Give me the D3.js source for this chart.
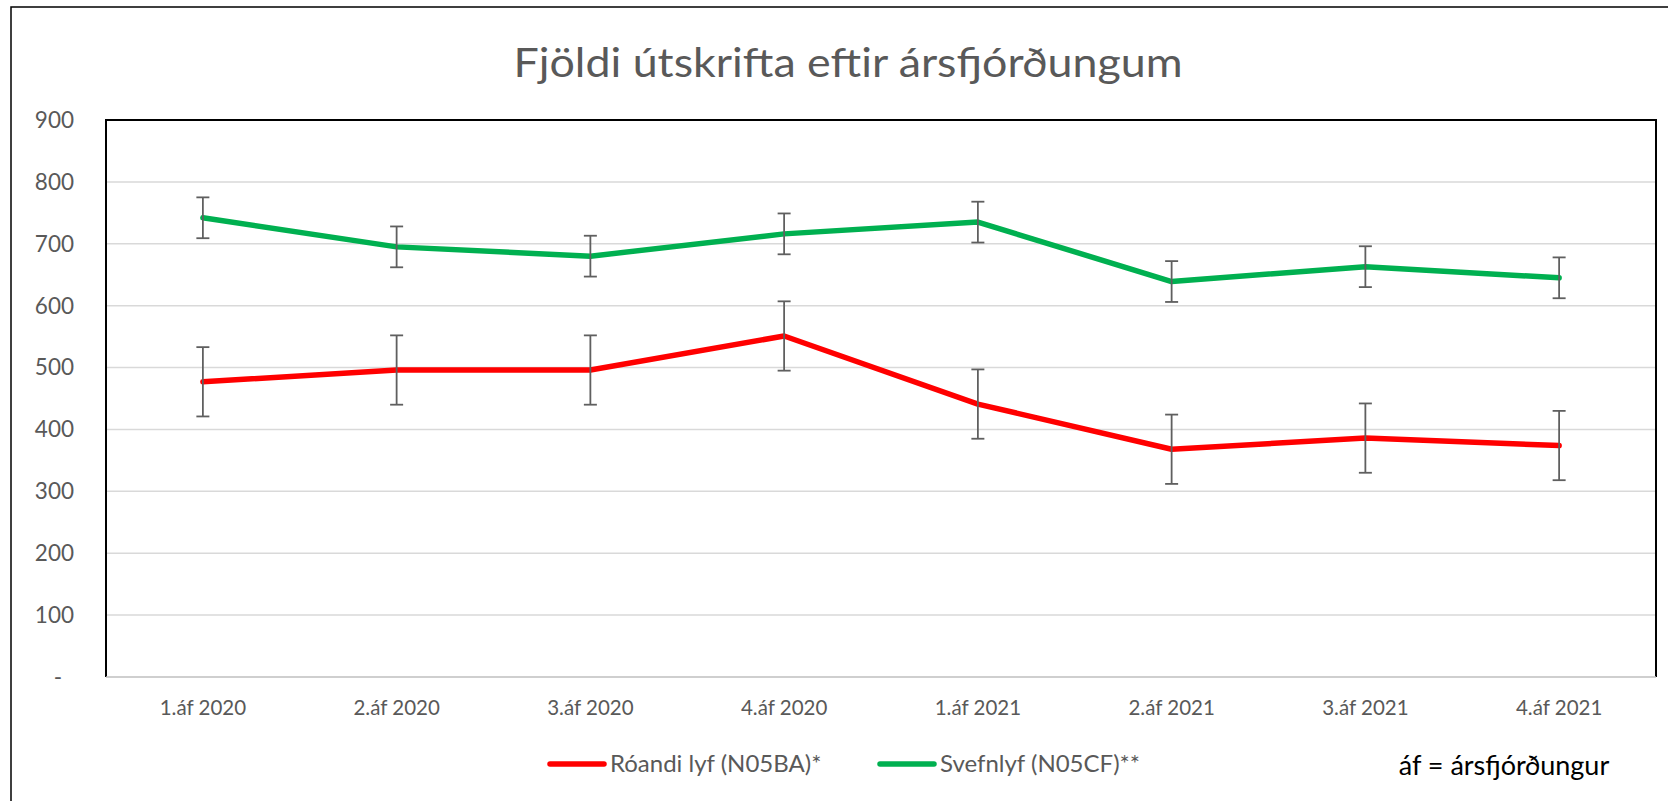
<!DOCTYPE html>
<html>
<head>
<meta charset="utf-8">
<script src="https://cdn.jsdelivr.net/npm/d3@7"></script>
<style>
  body { margin: 0; background: #fff; }
  svg { display: block; font-family: Lato, "Open Sans", sans-serif; }
</style>
</head>
<body>
<svg id="chart" width="1668" height="801"></svg>
<script>
var categories = ["1.áf 2020", "2.áf 2020", "3.áf 2020", "4.áf 2020", "1.áf 2021", "2.áf 2021", "3.áf 2021", "4.áf 2021"];
var roandi = [477, 496, 496, 551, 441, 368, 386, 374];
var roandiErr = [56, 56, 56, 56, 56, 56, 56, 56];
var svefnlyf = [742, 695, 680, 716, 735, 639, 663, 645];
var svefnlyfErr = [33, 33, 33, 33, 33, 33, 33, 33];
var yTicks = [0, 100, 200, 300, 400, 500, 600, 700, 800, 900];
var seriesNames = ["Róandi lyf (N05BA)*", "Svefnlyf (N05CF)**"];

function draw() {
    var series = [
        { name: seriesNames[0], values: roandi, err: roandiErr, color: "#ff0000" },
        { name: seriesNames[1], values: svefnlyf, err: svefnlyfErr, color: "#00b050" }
    ];

    var svg = d3.select("#chart");
    var plotLeft = 106, plotTop = 120, plotRight = 1656, plotBottom = 677;

    // outer chart border
    svg.append("rect")
        .attr("x", 11).attr("y", 7)
        .attr("width", 1700).attr("height", 900)
        .attr("fill", "none").attr("stroke", "#000").attr("stroke-width", 1.5);

    var x = d3.scaleBand().domain(categories).range([plotLeft, plotRight]);
    var y = d3.scaleLinear().domain([0, 900]).range([plotBottom, plotTop]);
    var cx = function (i) { return x(categories[i]) + x.bandwidth() / 2; };

    // gridlines
    svg.append("g").selectAll("line")
        .data(yTicks.filter(function (d) { return d > 0 && d < 900; }))
        .enter().append("line")
        .attr("x1", plotLeft).attr("x2", plotRight)
        .attr("y1", function (d) { return y(d); })
        .attr("y2", function (d) { return y(d); })
        .attr("stroke", "#d9d9d9").attr("stroke-width", 1.5);

    // plot border (left, top, right black; bottom grey axis)
    svg.append("path")
        .attr("d", "M" + plotLeft + "," + plotBottom + "V" + plotTop + "H" + plotRight + "V" + plotBottom)
        .attr("fill", "none").attr("stroke", "#000").attr("stroke-width", 2);
    svg.append("line")
        .attr("x1", plotLeft).attr("x2", plotRight)
        .attr("y1", plotBottom).attr("y2", plotBottom)
        .attr("stroke", "#bfbfbf").attr("stroke-width", 1.5);

    // y axis labels
    svg.append("g").selectAll("text")
        .data(yTicks)
        .enter().append("text")
        .attr("x", function (d) { return d === 0 ? 62 : 74; })
        .attr("y", function (d) { return y(d); })
        .attr("dy", "0.35em")
        .attr("text-anchor", "end")
        .attr("font-size", 22.5)
        .attr("fill", "#595959")
        .text(function (d) { return d === 0 ? "-" : d; });

    // x axis labels
    svg.append("g").selectAll("text")
        .data(categories)
        .enter().append("text")
        .attr("x", function (d, i) { return cx(i); })
        .attr("y", 715)
        .attr("text-anchor", "middle")
        .attr("font-size", 20.5)
        .attr("fill", "#595959")
        .text(function (d) { return d; });

    // title
    svg.append("text")
        .attr("x", 848).attr("y", 77)
        .attr("text-anchor", "middle")
        .attr("font-size", 41)
        .attr("textLength", 669)
        .attr("lengthAdjust", "spacingAndGlyphs")
        .attr("fill", "#595959")
        .text("Fjöldi útskrifta eftir ársfjórðungum");

    var line = d3.line()
        .x(function (d, i) { return cx(i); })
        .y(function (d) { return y(d); });

    series.forEach(function (s) {
        var g = svg.append("g");
        g.append("path")
            .datum(s.values)
            .attr("d", line)
            .attr("fill", "none")
            .attr("stroke", s.color)
            .attr("stroke-width", 5.5)
            .attr("stroke-linejoin", "round")
            .attr("stroke-linecap", "round");

        var eb = g.selectAll(".eb")
            .data(s.values)
            .enter().append("g")
            .attr("stroke", "#5f5f5f").attr("stroke-width", 1.8);
        eb.append("line")
            .attr("x1", function (d, i) { return cx(i); })
            .attr("x2", function (d, i) { return cx(i); })
            .attr("y1", function (d, i) { return y(d + s.err[i]); })
            .attr("y2", function (d, i) { return y(d - s.err[i]); });
        [1, -1].forEach(function (sign) {
            eb.append("line")
                .attr("x1", function (d, i) { return cx(i) - 6.5; })
                .attr("x2", function (d, i) { return cx(i) + 6.5; })
                .attr("y1", function (d, i) { return y(d + sign * s.err[i]); })
                .attr("y2", function (d, i) { return y(d + sign * s.err[i]); });
        });
    });

    // legend
    var legendX = [550, 880];
    series.forEach(function (s, i) {
        var lg = svg.append("g").attr("transform", "translate(" + legendX[i] + ",764)");
        lg.append("line")
            .attr("x1", 0).attr("x2", 54).attr("y1", 0).attr("y2", 0)
            .attr("stroke", s.color).attr("stroke-width", 5.5).attr("stroke-linecap", "round");
        lg.append("text")
            .attr("x", 60).attr("y", 0).attr("dy", "0.35em")
            .attr("font-size", 24).attr("fill", "#595959")
            .text(s.name);
    });

    svg.append("text")
        .attr("x", 1504).attr("y", 766).attr("dy", "0.35em")
        .attr("text-anchor", "middle")
        .attr("font-size", 27).attr("fill", "#000")
        .text("áf = ársfjórðungur");
}
draw();
</script>
</body>
</html>
